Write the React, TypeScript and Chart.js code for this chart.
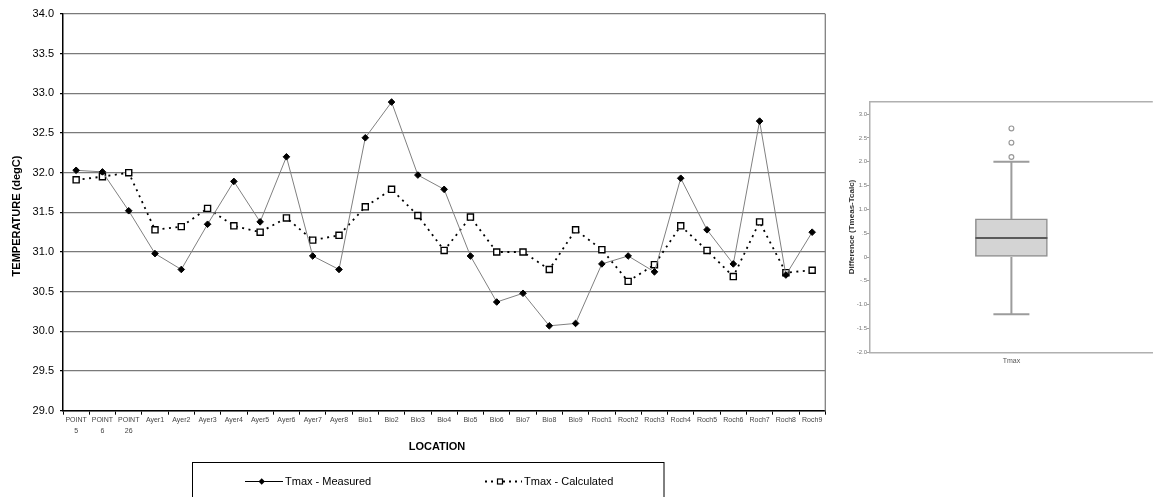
import React, { useEffect, useRef } from 'react';
import { Chart, registerables } from 'chart.js';

Chart.register(...registerables);

const FONT = '"Liberation Sans", Arial, sans-serif';

const categories: (string | string[])[] = [
  ['POINT', '5'], ['POINT', '6'], ['POINT', '26'],
  'Ayer1', 'Ayer2', 'Ayer3', 'Ayer4', 'Ayer5', 'Ayer6', 'Ayer7', 'Ayer8',
  'Bio1', 'Bio2', 'Bio3', 'Bio4', 'Bio5', 'Bio6', 'Bio7', 'Bio8', 'Bio9',
  'Roch1', 'Roch2', 'Roch3', 'Roch4', 'Roch5', 'Roch6', 'Roch7', 'Roch8', 'Roch9',
];

const measured = [
  32.03, 32.01, 31.52, 30.98, 30.78, 31.35, 31.89, 31.38, 32.2, 30.95, 30.78,
  32.44, 32.89, 31.97, 31.79, 30.95, 30.37, 30.48, 30.07, 30.1,
  30.85, 30.95, 30.75, 31.93, 31.28, 30.85, 32.65, 30.71, 31.25,
];

const calculated = [
  31.91, 31.95, 32.0, 31.28, 31.32, 31.55, 31.33, 31.25, 31.43, 31.15, 31.21,
  31.57, 31.79, 31.46, 31.02, 31.44, 31.0, 31.0, 30.78, 31.28,
  31.03, 30.63, 30.84, 31.33, 31.02, 30.69, 31.38, 30.74, 30.77,
];

const seriesLabels = ['Tmax - Measured', 'Tmax - Calculated'];
const axisTitles = { x: 'LOCATION', y: 'TEMPERATURE (degC)' };

// Box plot (Tmeas - Tcalc)
const boxCategories = ['Tmax'];
const boxQ1 = [0.0];
const boxMedian = [0.4];
const boxQ3 = [0.8];
const boxWhiskerLow = [-1.2];
const boxWhiskerHigh = [2.0];
const boxOutliers = [2.1, 2.4, 2.7];
const boxYTitle = 'Difference (Tmeas-Tcalc)';

const fmtBoxTick = (v: number) => {
  if (Math.abs(v) < 1e-9) return '0';
  const s = v.toFixed(1);
  if (Math.abs(v) < 1) return s.replace('0.', '.');
  return s;
};

const mainDecor = {
  id: 'mainDecor',
  afterDraw(chart: any) {
    const { ctx, chartArea } = chart;
    ctx.save();
    // right border
    ctx.strokeStyle = '#808080';
    ctx.lineWidth = 1.3;
    ctx.beginPath();
    ctx.moveTo(chartArea.right, chartArea.top);
    ctx.lineTo(chartArea.right, chartArea.bottom);
    ctx.stroke();

    // axis titles
    ctx.fillStyle = '#000';
    ctx.font = `bold 11px ${FONT}`;
    ctx.textAlign = 'center';
    ctx.textBaseline = 'middle';
    ctx.fillText(axisTitles.x, 437, 447);
    ctx.save();
    ctx.translate(17, 216);
    ctx.rotate(-Math.PI / 2);
    ctx.fillText(axisTitles.y, 0, 0);
    ctx.restore();

    // legend box
    ctx.strokeStyle = '#000';
    ctx.lineWidth = 1;
    ctx.strokeRect(192.5, 462.5, 471.5, 60);
    const ly = 481.5;
    // item 1
    ctx.strokeStyle = '#000';
    ctx.beginPath();
    ctx.moveTo(245, ly);
    ctx.lineTo(283, ly);
    ctx.stroke();
    ctx.fillStyle = '#000';
    ctx.beginPath();
    ctx.moveTo(261.7, ly - 3.2);
    ctx.lineTo(264.9, ly);
    ctx.lineTo(261.7, ly + 3.2);
    ctx.lineTo(258.5, ly);
    ctx.closePath();
    ctx.fill();
    ctx.font = `11px ${FONT}`;
    ctx.textAlign = 'left';
    ctx.fillText(seriesLabels[0], 285, ly);
    // item 2
    ctx.save();
    ctx.setLineDash([2, 4]);
    ctx.lineWidth = 1.8;
    ctx.beginPath();
    ctx.moveTo(485, ly);
    ctx.lineTo(522, ly);
    ctx.stroke();
    ctx.restore();
    ctx.fillStyle = '#fff';
    ctx.fillRect(497.5, ly - 2.5, 5, 5);
    ctx.lineWidth = 1.2;
    ctx.strokeRect(497.5, ly - 2.5, 5, 5);
    ctx.fillStyle = '#000';
    ctx.fillText(seriesLabels[1], 524, ly);
    ctx.restore();
  },
};

const boxDecor = {
  id: 'boxDecor',
  afterDatasetsDraw(chart: any) {
    const { ctx, chartArea, scales } = chart;
    const y = scales.y;
    const meta = chart.getDatasetMeta(0);
    ctx.save();
    // top frame
    ctx.strokeStyle = '#b0b0b0';
    ctx.lineWidth = 1.5;
    ctx.beginPath();
    ctx.moveTo(chartArea.left, chartArea.top);
    ctx.lineTo(chartArea.right, chartArea.top);
    ctx.stroke();

    meta.data.forEach((el: any, i: number) => {
      const cx = el.x;
      const half = el.width / 2;
      const capHalf = 18;
      ctx.strokeStyle = '#9c9c9c';
      ctx.lineWidth = 2;
      ctx.beginPath();
      ctx.moveTo(cx, y.getPixelForValue(boxQ3[i]));
      ctx.lineTo(cx, y.getPixelForValue(boxWhiskerHigh[i]));
      ctx.moveTo(cx, y.getPixelForValue(boxQ1[i]));
      ctx.lineTo(cx, y.getPixelForValue(boxWhiskerLow[i]));
      ctx.moveTo(cx - capHalf, y.getPixelForValue(boxWhiskerHigh[i]));
      ctx.lineTo(cx + capHalf, y.getPixelForValue(boxWhiskerHigh[i]));
      ctx.moveTo(cx - capHalf, y.getPixelForValue(boxWhiskerLow[i]));
      ctx.lineTo(cx + capHalf, y.getPixelForValue(boxWhiskerLow[i]));
      ctx.stroke();
      ctx.strokeStyle = '#5a5a5a';
      ctx.lineWidth = 2;
      ctx.beginPath();
      ctx.moveTo(cx - half, y.getPixelForValue(boxMedian[i]));
      ctx.lineTo(cx + half, y.getPixelForValue(boxMedian[i]));
      ctx.stroke();
    });

    // y title
    ctx.fillStyle = '#333';
    ctx.font = `bold 8px ${FONT}`;
    ctx.textAlign = 'center';
    ctx.textBaseline = 'middle';
    ctx.translate(21.5, 137);
    ctx.rotate(-Math.PI / 2);
    ctx.fillText(boxYTitle, 0, 0);
    ctx.restore();
  },
};

export default function App() {
  const mainRef = useRef<HTMLCanvasElement>(null);
  const boxRef = useRef<HTMLCanvasElement>(null);

  useEffect(() => {
    const main = new Chart(mainRef.current!, {
      type: 'line',
      data: {
        labels: categories,
        datasets: [
          {
            label: seriesLabels[0],
            data: measured,
            borderColor: '#808080',
            borderWidth: 1,
            pointStyle: 'rectRot',
            pointRadius: 3.3,
            pointBackgroundColor: '#000',
            pointBorderColor: '#000',
            pointBorderWidth: 1,
            tension: 0,
          },
          {
            label: seriesLabels[1],
            data: calculated,
            borderColor: '#000',
            borderWidth: 1.8,
            borderDash: [2, 4.5],
            pointStyle: 'rect',
            pointRadius: 4.3,
            pointBackgroundColor: '#fff',
            pointBorderColor: '#000',
            pointBorderWidth: 1.4,
            tension: 0,
          },
        ],
      },
      options: {
        animation: false,
        responsive: false,
        layout: { padding: { top: 14, right: 14.7, left: 0, bottom: 0 } },
        plugins: { legend: { display: false }, tooltip: { enabled: false } },
        scales: {
          x: {
            offset: true,
            grid: {
              display: true,
              drawOnChartArea: false,
              drawTicks: true,
              tickLength: 4,
              tickColor: '#000',
              offset: true,
            },
            border: { color: '#000', width: 1.5 },
            ticks: {
              autoSkip: false,
              maxRotation: 0,
              minRotation: 0,
              padding: 0,
              color: '#444',
              font: { family: FONT, size: 7, lineHeight: '11px' },
            },
            afterFit(s: any) {
              s.height = 86.3;
            },
          },
          y: {
            min: 29,
            max: 34,
            ticks: {
              stepSize: 0.5,
              callback: (v: any) => Number(v).toFixed(1),
              color: '#000',
              padding: 6,
              font: { family: FONT, size: 11 },
            },
            grid: { color: '#7a7a7a', lineWidth: 1.3, tickLength: 3, tickColor: '#000' },
            border: { color: '#000', width: 1.5 },
            afterFit(s: any) {
              s.width = 63;
            },
          },
        },
      },
      plugins: [mainDecor],
    } as any);

    const box = new Chart(boxRef.current!, {
      type: 'bar',
      data: {
        labels: boxCategories,
        datasets: [
          {
            type: 'bar',
            data: boxCategories.map((_, i) => [boxQ1[i], boxQ3[i]]),
            backgroundColor: '#d4d4d4',
            borderColor: '#8e8e8e',
            borderWidth: 1.5,
            borderSkipped: false,
            barThickness: 72,
          },
          {
            type: 'line',
            data: boxOutliers.map((v) => ({ x: boxCategories[0], y: v })),
            showLine: false,
            pointStyle: 'circle',
            pointRadius: 2.4,
            pointBorderColor: '#9a9a9a',
            pointBackgroundColor: '#fff',
            pointBorderWidth: 1.2,
          },
        ],
      },
      options: {
        animation: false,
        responsive: false,
        layout: { padding: { top: 11.7, right: 0, left: 0, bottom: 0 } },
        plugins: { legend: { display: false }, tooltip: { enabled: false } },
        scales: {
          x: {
            offset: true,
            grid: { display: false, drawTicks: false },
            border: { color: '#b0b0b0', width: 1.5 },
            ticks: { padding: 4.2, color: '#555', font: { family: FONT, size: 7 } },
            afterFit(s: any) {
              s.height = 27.7;
            },
          },
          y: {
            min: -2,
            max: 3.26,
            ticks: {
              stepSize: 0.5,
              includeBounds: false,
              callback: (v: any) => fmtBoxTick(Number(v)),
              color: '#777',
              padding: 0,
              font: { family: FONT, size: 6 },
            },
            grid: { drawOnChartArea: false, tickLength: 3, tickColor: '#a0a0a0' },
            border: { color: '#b0b0b0', width: 1.5 },
            afterFit(s: any) {
              s.width = 40;
            },
          },
        },
      },
      plugins: [boxDecor],
    } as any);

    return () => {
      main.destroy();
      box.destroy();
    };
  }, []);

  return (
    <div
      style={{
        position: 'absolute',
        left: 0,
        top: 0,
        width: 1153,
        height: 497,
        overflow: 'hidden',
        background: '#fff',
      }}
    >
      <canvas
        ref={mainRef}
        width={840}
        height={497}
        style={{ position: 'absolute', left: 0, top: 0, display: 'block' }}
      />
      <canvas
        ref={boxRef}
        width={328}
        height={290}
        style={{ position: 'absolute', left: 830, top: 90, display: 'block' }}
      />
    </div>
  );
}
